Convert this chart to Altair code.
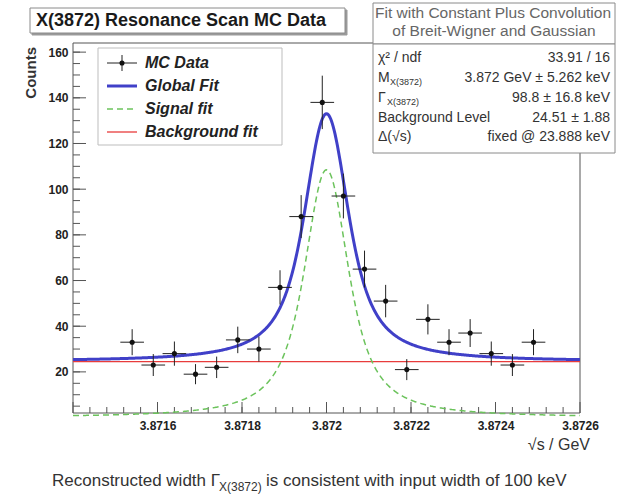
import altair as alt
import numpy as np
import pandas as pd

FONT = "Liberation Sans"

# ---- scan data -------------------------------------------------------------
scan_energy = [3.87154, 3.87159, 3.87164, 3.87169, 3.87174, 3.87179, 3.87184,
               3.87189, 3.87194, 3.87199, 3.87204, 3.87209, 3.87214, 3.87219,
               3.87224, 3.87229, 3.87234, 3.87239, 3.87244, 3.87249]
counts = [33, 23, 28, 19, 22, 34, 30, 57, 88, 138, 97, 65, 51, 21, 43, 33, 37,
          28, 23, 33]
count_err = [5.7, 4.8, 5.3, 4.4, 4.7, 5.8, 5.5, 7.5, 9.4, 11.7, 9.8, 8.1, 7.1,
             4.6, 6.6, 5.7, 6.1, 5.3, 4.8, 5.7]
energy_err = 0.000028

# ---- fit result (constant + Breit-Wigner (x) Gaussian) ----------------------
fit_mass = 3.872
fit_width = 98.8e-6
beam_spread = 23.888e-6
bkg_level = 24.51
signal_peak = 108.5

x_ticks = [3.8716, 3.8718, 3.872, 3.8722, 3.8724, 3.8726]
y_ticks = [20, 40, 60, 80, 100, 120, 140, 160]
x_domain = [3.8714, 3.8726]
y_domain = [2, 164]

stats_labels = ["χ² / ndf", "M", "Γ", "Background Level", "Δ(√s)"]
stats_values = ["33.91 / 16", "3.872 GeV ± 5.262 keV", "98.8 ± 16.8 keV",
                "24.51 ± 1.88", "fixed @ 23.888 keV"]

W, H = 507, 370

pts = pd.DataFrame({"x": scan_energy, "y": counts, "ey": count_err})
pts["x_lo"] = pts["x"] - energy_err
pts["x_hi"] = pts["x"] + energy_err
pts["y_lo"] = pts["y"] - pts["ey"]
pts["y_hi"] = pts["y"] + pts["ey"]

# Voigt profile: Lorentzian folded with the Gaussian beam spread
xs = np.linspace(x_domain[0], x_domain[1], 601)
t = np.linspace(-6 * beam_spread, 6 * beam_spread, 241)
gauss = np.exp(-0.5 * (t / beam_spread) ** 2)
hw = fit_width / 2


def voigt(x):
    d = np.asarray(x)[:, None] - fit_mass - t[None, :]
    return ((hw ** 2 / (d ** 2 + hw ** 2)) * gauss).sum(axis=1)


sig = signal_peak * voigt(xs) / voigt([fit_mass])[0]
curve = pd.DataFrame({"x": xs, "signal": sig, "total": sig + bkg_level,
                      "bkg": np.full_like(xs, bkg_level)})

xscale = alt.Scale(domain=x_domain, nice=False, zero=False)
yscale = alt.Scale(domain=y_domain, nice=False, zero=False)
xaxis = alt.Axis(values=x_ticks, format=".4~f", domain=False, ticks=False,
                 tickSize=0, grid=False, title=None, labelFont=FONT,
                 labelFontSize=12, labelFontWeight="bold", labelColor="#222",
                 labelPadding=7, labelFlush=False)
yaxis = alt.Axis(values=y_ticks, domain=False, ticks=False, tickSize=0,
                 grid=False, title=None, labelFont=FONT, labelFontSize=12,
                 labelFontWeight="bold", labelColor="#222", labelPadding=5)


def X(field):
    return alt.X(field, type="quantitative", scale=xscale, axis=xaxis)


def Y(field):
    return alt.Y(field, type="quantitative", scale=yscale, axis=yaxis)


one = pd.DataFrame({"k": [0]})


def text(txt, x, y, size=14, align="left", weight="normal", style="normal",
         color="#222", angle=None, baseline="middle", limit=None):
    kw = dict(text=txt, align=align, baseline=baseline, fontSize=size,
              fontWeight=weight, fontStyle=style, color=color, font=FONT)
    if angle is not None:
        kw["angle"] = angle
    if limit is not None:
        kw["limit"] = limit
        kw["ellipsis"] = ""
    return alt.Chart(one).mark_text(**kw).encode(x=alt.value(x), y=alt.value(y))


def box(x1, y1, x2, y2, fill="white", stroke="#8a8a8a"):
    return alt.Chart(one).mark_rect(fill=fill, stroke=stroke, strokeWidth=1).encode(
        x=alt.value(x1), x2=alt.value(x2), y=alt.value(y1), y2=alt.value(y2))


def seg(x1, y1, x2, y2, color="#555", width=1.0, dash=None):
    kw = dict(color=color, strokeWidth=width)
    if dash:
        kw["strokeDash"] = dash
    return alt.Chart(one).mark_rule(**kw).encode(
        x=alt.value(x1), x2=alt.value(x2), y=alt.value(y1), y2=alt.value(y2))


# ---- frame and inward ticks ------------------------------------------------
frame = [seg(0, 0, W, 0), seg(W, 0, W, H), seg(0, H, W, H), seg(0, 0, 0, H)]

x_major = pd.DataFrame({"v": [3.8714] + x_ticks})
x_minor = pd.DataFrame({"v": np.round(np.arange(3.87144, 3.8726, 0.00004), 6)})
y_major = pd.DataFrame({"v": y_ticks})
y_minor = pd.DataFrame({"v": np.arange(5, 164, 5)})

tick_layers = [
    alt.Chart(x_major).mark_rule(color="#555").encode(
        x=X("v"), y=alt.value(H), y2=alt.value(H - 11)),
    alt.Chart(x_minor).mark_rule(color="#555").encode(
        x=X("v"), y=alt.value(H), y2=alt.value(H - 6)),
    alt.Chart(y_major).mark_rule(color="#555").encode(
        y=Y("v"), x=alt.value(0), x2=alt.value(13)),
    alt.Chart(y_minor).mark_rule(color="#555").encode(
        y=Y("v"), x=alt.value(0), x2=alt.value(7)),
]

# ---- fit curves -------------------------------------------------------------
BLUE = "#4040c8"
GREEN = "#6cc35c"
RED = "#e83c3c"

bkg_line = alt.Chart(curve).mark_line(color=RED, strokeWidth=1.3).encode(
    x=X("x"), y=Y("bkg"))
sig_line = alt.Chart(curve).mark_line(color=GREEN, strokeWidth=1.5,
                                      strokeDash=[6, 4]).encode(
    x=X("x"), y=Y("signal"))
tot_line = alt.Chart(curve).mark_line(color=BLUE, strokeWidth=3).encode(
    x=X("x"), y=Y("total"))

# ---- data with error bars ----------------------------------------------------
xerr = alt.Chart(pts).mark_rule(color="#222", strokeWidth=1).encode(
    x=X("x_lo"), x2="x_hi", y=Y("y"))
yerr = alt.Chart(pts).mark_rule(color="#222", strokeWidth=1).encode(
    x=X("x"), y=Y("y_lo"), y2="y_hi")
dots = alt.Chart(pts).mark_circle(size=26, color="#111", opacity=1).encode(
    x=X("x"), y=Y("y"))

# ---- legend ------------------------------------------------------------------
ly = [20, 43, 66, 89]
legend = [
    box(25, 5, 209, 102, stroke="#bdbdbd"),
    seg(34, ly[0], 64, ly[0], color="#222"),
    seg(49, ly[0] - 8, 49, ly[0] + 8, color="#222"),
    alt.Chart(one).mark_circle(size=26, color="#111", opacity=1).encode(
        x=alt.value(49), y=alt.value(ly[0])),
    seg(34, ly[1], 64, ly[1], color=BLUE, width=3),
    seg(34, ly[2], 64, ly[2], color=GREEN, width=1.5, dash=[6, 4]),
    seg(34, ly[3], 64, ly[3], color=RED, width=1.3),
]
for name, yy in zip(["MC Data", "Global Fit", "Signal fit", "Background fit"], ly):
    legend.append(text(name, 72, yy, size=16, weight="bold", style="italic"))

# ---- title box -----------------------------------------------------------------
title = [
    box(-41, -33, 274, -8, fill="#9a9a9a", stroke="#9a9a9a"),
    box(-43, -35, 272, -10, fill="white", stroke="#8a8a8a"),
    text("X(3872) Resonance Scan MC Data", -37, -22, size=18, weight="bold",
         color="#1a1a1a"),
]

# ---- fit statistics box ----------------------------------------------------------
stats = [
    box(300, -40, 542, 1),
    box(300, 1, 542, 110),
    text("Fit with Constant Plus Convolution", 302, -30, size=15.5,
         color="#666", limit=238),
    text("of Breit-Wigner and Gaussian", 421, -12, size=15.5, align="center",
         color="#666"),
]
row_y = [15, 35, 55, 75, 94]
for lab, val, yy in zip(stats_labels, stats_values, row_y):
    stats.append(text(lab, 305, yy, size=14, color="#333"))
    stats.append(text(val, 537, yy, size=14, align="right", color="#333"))
stats.append(text("X(3872)", 317, row_y[1] + 4, size=9, color="#333"))
stats.append(text("X(3872)", 314, row_y[2] + 4, size=9, color="#333"))

# ---- axis titles and caption -------------------------------------------------------
labels = [
    text("√s / GeV", 517, 402, size=16, align="right", color="#333"),
    text("Counts", -42, 4, size=15, weight="bold", align="right", angle=270,
         color="#333"),
    text("Reconstructed width Γ", -21, 438, size=17, color="#333"),
    text("X(3872)", 146, 444, size=12, color="#333"),
    text("is consistent with input width of 100 keV", 193, 438, size=17,
         color="#333"),
]

chart = alt.layer(
    *frame, *tick_layers, bkg_line, sig_line, tot_line, xerr, yerr, dots,
    *legend, *title, *stats, *labels
).properties(
    width=W, height=H,
    padding={"left": 73, "top": 43, "right": 39, "bottom": 82},
    autosize=alt.AutoSizeParams(type="none"),
    background="white",
).configure_view(stroke=None)

chart.save("out.html", embed_options={"renderer": "svg", "actions": False})
